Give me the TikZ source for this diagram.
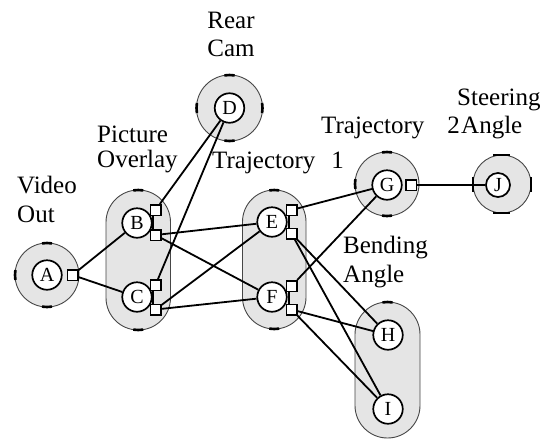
\documentclass[tikz,border=0pt]{standalone}
\usepackage{fontspec}
\setmainfont{Liberation Serif}
\usetikzlibrary{calc}
\definecolor{clusterfill}{RGB}{229,229,229}
\definecolor{clusteredge}{RGB}{70,70,70}
% short thick mark on a round outline: [centre]{radius}{angle}
\newcommand{\ringtick}[3]{%
  \draw[tickmark] ($(#1)+({#3-9}:#2)$) arc[start angle={#3-9}, end angle={#3+9}, radius=#2];}
\begin{document}
\begin{tikzpicture}[x=1pt,y=-1pt,
  cluster/.style={fill=clusterfill, draw=clusteredge, line width=0.9pt},
  comp/.style={circle, draw=black, fill=white, line width=1.7pt, inner sep=0pt,
    minimum size=29.5pt, font=\fontsize{20}{22}\selectfont},
  port/.style={rectangle, draw=black, fill=white, line width=1.5pt,
    minimum size=10.5pt, inner sep=0pt},
  stem/.style={line width=1.5pt, black},
  wire/.style={line width=1.8pt, black},
  tickmark/.style={line width=2.6pt, black},
  jbar/.style={line width=1.5pt, black},
  lbl/.style={inner sep=0pt, font=\fontsize{25}{30}\selectfont},
]
\useasboundingbox[fill=white] (0,0) rectangle (553,440);

% ---- clusters ----
\draw[cluster] (47,275) circle[radius=32];
\draw[cluster, rounded corners=32.25pt] (106,190) rectangle (170.5,330);
\draw[cluster] (229.5,108) circle[radius=33];
\draw[cluster, rounded corners=31.75pt] (242.5,190) rectangle (306,329);
\draw[cluster] (387,184) circle[radius=32];
\draw[cluster] (502,184) circle[radius=29];
\draw[cluster, rounded corners=32.5pt] (355,302) rectangle (420,438);

% ---- cluster marks (270 = top, 90 = bottom, 180 = left, 0 = right) ----
\ringtick{47,275}{32}{270}
\ringtick{47,275}{32}{90}
\ringtick{47,275}{32}{180}
\ringtick{138.25,222.25}{32.25}{270}
\ringtick{138.25,297.75}{32.25}{90}
\ringtick{229.5,108}{33}{270}
\ringtick{229.5,108}{33}{90}
\ringtick{229.5,108}{33}{180}
\ringtick{229.5,108}{33}{0}
\ringtick{274.25,221.75}{31.75}{270}
\ringtick{274.25,297.25}{31.75}{90}
\ringtick{387,184}{32}{270}
\ringtick{387,184}{32}{90}
\ringtick{387,184}{32}{180}
\ringtick{387.5,334.5}{32.5}{270}
\draw[jbar] (493,155) -- (510,155);
\draw[jbar] (493,213) -- (510,213);
\draw[jbar] (473,177) -- (473,192);
\draw[jbar, line width=2.2pt] (531,177) -- (531,192);

% ---- components and ports ----
\node[comp] (A) at (47,275) {A};
\node[port] (Ap) at (72.5,275) {};

\node[comp] (B) at (137,223) {B};
\node[port] (Bt) at (155.5,210) {};
\node[port] (Bb) at (155.5,235) {};
\node[comp] (C) at (137,297) {C};
\node[port] (Ct) at (155.5,285) {};
\node[port] (Cb) at (155.5,309.5) {};

\node[comp] (D) at (229.5,108) {D};

\node[comp] (E) at (272,222) {E};
\node[port] (Et) at (291.5,210) {};
\node[port] (Eb) at (291.5,233.5) {};
\node[comp] (F) at (272,297) {F};
\node[port] (Ft) at (291.5,286) {};
\node[port] (Fb) at (291.5,309.5) {};

\node[comp] (G) at (387,185) {G};
\node[port] (Gp) at (411,185) {};
\node[comp, minimum size=24pt] (J) at (498,185) {J};

\node[comp] (H) at (388,335) {H};
\node[comp] (I) at (388,409) {I};

% port pairs joined on the component side
\foreach \u/\v in {Bt/Bb, Ct/Cb, Et/Eb, Ft/Fb}
  \draw[stem] ([xshift=-2.5pt]\u.south) -- ([xshift=-2.5pt]\v.north);

% ---- connections ----
\draw[wire] (Ap) -- (B);
\draw[wire] (Ap) -- (C);
\draw[wire] (Bt) -- (D);
\draw[wire] (Ct) -- (D);
\draw[wire] (Bb) -- (E);
\draw[wire] (Bb) -- (F);
\draw[wire] (Cb) -- (E);
\draw[wire] (Cb) -- (F);
\draw[wire] (Et) -- (G);
\draw[wire] (Ft) -- (G);
\draw[wire] (Eb) -- (H);
\draw[wire] (Eb) -- (I);
\draw[wire] (Fb) -- (H);
\draw[wire] (Fb) -- (I);
\draw[wire] (Gp) -- (J);

% ---- labels ----
\node[lbl, anchor=base] (rear1) at (231,28) {Rear};
\node[lbl, anchor=base] (rear2) at (231,56) {Cam};
\node[lbl, anchor=base west] (pic1) at (97,142) {Picture};
\node[lbl, anchor=base west] (pic2) at (97,167) {Overlay};
\node[lbl, anchor=base west] (vid1) at (17,193) {Video};
\node[lbl, anchor=base west] (vid2) at (17,222) {Out};
\node[lbl, anchor=base west] (traj1) at (212,168) {Trajectory\hspace{16pt}1};
\node[lbl, anchor=base west] (traj2) at (321,133) {Trajectory\hspace{23pt}2};
\node[lbl, anchor=base west] (steer1) at (457,105) {Steering};
\node[lbl, anchor=base west] (steer2) at (461,133) {Angle};
\node[lbl, anchor=base west] (bend1) at (343,253) {Bending};
\node[lbl, anchor=base west] (bend2) at (343,282) {Angle};
\end{tikzpicture}
\end{document}
